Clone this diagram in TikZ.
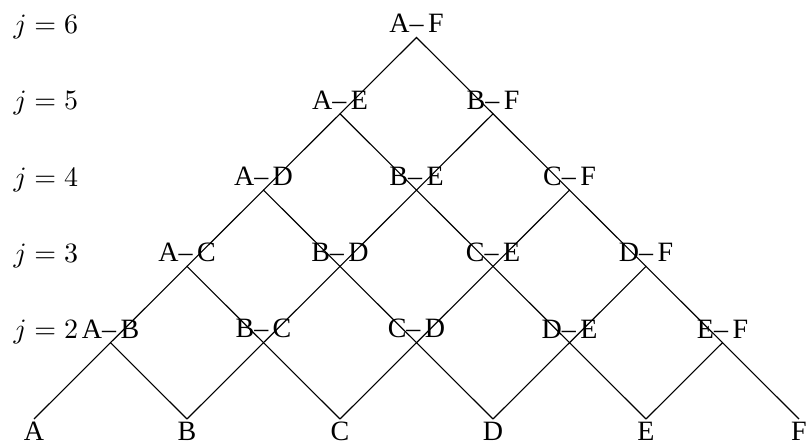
\documentclass[tikz,border=0pt]{standalone}
\usepackage[no-math]{fontspec}
\setmainfont{Liberation Serif}
\newcommand{\pr}[2]{#1–\kern1.6pt#2}
\begin{document}
\begin{tikzpicture}[x=0.357pt,y=-0.357pt,
  lbl/.style={anchor=south,inner sep=1.43pt},
  leaf/.style={anchor=north,inner sep=1pt},
  jlab/.style={anchor=base west,inner sep=0pt,font=\fontsize{10.4pt}{12pt}\selectfont},
  edge/.style={line width=0.4pt}]
\useasboundingbox (0,0) rectangle (806,444);
% grid points
\foreach \r in {0,...,5}{
  \pgfmathtruncatemacro\n{5-\r}
  \foreach \i in {0,...,\n}{
    \coordinate (p\r-\i) at ({34+153*(\i+\r/2)},{419-76.3*\r});
  }
}
% edges
\foreach \r in {1,...,5}{
  \pgfmathtruncatemacro\n{5-\r}
  \pgfmathtruncatemacro\q{\r-1}
  \foreach \i in {0,...,\n}{
    \pgfmathtruncatemacro\k{\i+1}
    \draw[edge] (p\q-\i) -- (p\r-\i) -- (p\q-\k);
  }
}
% leaves
\node[leaf] (nA) at (p0-0) {A};
\node[leaf] (nB) at (p0-1) {B};
\node[leaf] (nC) at (p0-2) {C};
\node[leaf] (nD) at (p0-3) {D};
\node[leaf] (nE) at (p0-4) {E};
\node[leaf] (nF) at (p0-5) {F};
% j = 2
\node[lbl] (nAB) at (p1-0) {\pr{A}{B}};
\node[lbl] (nBC) at (p1-1) {\pr{B}{C}};
\node[lbl] (nCD) at (p1-2) {\pr{C}{D}};
\node[lbl] (nDE) at (p1-3) {\pr{D}{E}};
\node[lbl] (nEF) at (p1-4) {\pr{E}{F}};
% j = 3
\node[lbl] (nAC) at (p2-0) {\pr{A}{C}};
\node[lbl] (nBD) at (p2-1) {\pr{B}{D}};
\node[lbl] (nCE) at (p2-2) {\pr{C}{E}};
\node[lbl] (nDF) at (p2-3) {\pr{D}{F}};
% j = 4
\node[lbl] (nAD) at (p3-0) {\pr{A}{D}};
\node[lbl] (nBE) at (p3-1) {\pr{B}{E}};
\node[lbl] (nCF) at (p3-2) {\pr{C}{F}};
% j = 5
\node[lbl] (nAE) at (p4-0) {\pr{A}{E}};
\node[lbl] (nBF) at (p4-1) {\pr{B}{F}};
% j = 6
\node[lbl] (nAF) at (p5-0) {\pr{A}{F}};
% level labels
\foreach \r/\j in {1/2,2/3,3/4,4/5,5/6}{
  \node[jlab] (j\j) at ({13},{419-76.3*\r-4}) {$j=\j$};
}
\end{tikzpicture}
\end{document}
